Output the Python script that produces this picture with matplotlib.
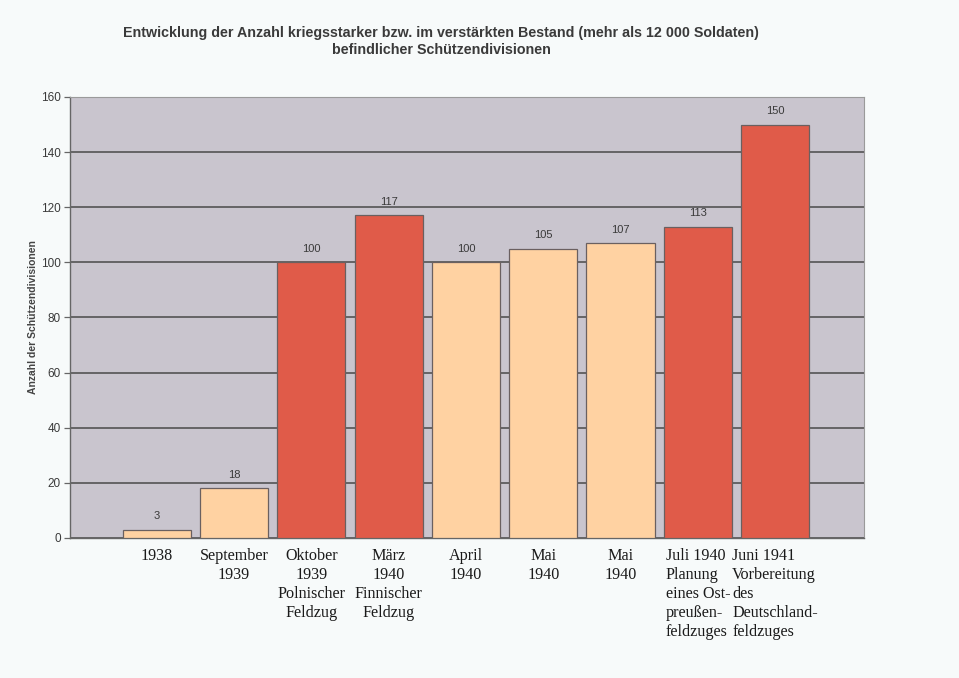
import matplotlib.pyplot as plt
import numpy as np

categories = ['1938', 'September\n1939', 'Oktober\n1939\nPolnischer\nFeldzug',
              'März\n1940\nFinnischer\nFeldzug', 'April\n1940', 'Mai\n1940', 'Mai\n1940',
              'Juli 1940\nPlanung\neines Ost-\npreußen-\nfeldzuges',
              'Juni 1941\nVorbereitung\ndes\nDeutschland-\nfeldzuges']
values = [3, 18, 100, 117, 100, 105, 107, 113, 150]
highlight = [False, False, True, True, False, False, False, True, True]
left_aligned = [False, False, False, False, False, False, False, True, True]

red = '#E05B49'
peach = '#FFD2A2'

fig = plt.figure(figsize=(9.59, 6.78), dpi=100, facecolor='#F7FAFA')
ax = fig.add_axes([0.073, 0.2065, 0.828, 0.6505])
ax.set_facecolor('#C9C5CE')

X = np.arange(len(values))
colors = [red if h else peach for h in highlight]
ax.bar(X, values, width=0.88, color=colors, edgecolor='#6a6060', linewidth=0.9, zorder=3)

for x, v in zip(X, values):
    ax.text(x, v + 3.0, str(v), ha='center', va='bottom', fontsize=8,
            family='Liberation Sans', color='#3a3a3a', zorder=4)

ax.set_ylim(0, 160)
ax.set_xlim(-1.12, len(values) - 1 + 1.15)
ax.set_yticks(np.arange(0, 161, 20))
ax.yaxis.grid(True, color='#4a4a4a', linewidth=1.1, zorder=1)
ax.set_axisbelow(True)
ax.tick_params(axis='y', direction='out', length=4, width=0.9, color='#666666',
               labelsize=8.5, labelcolor='#3a3a3a', pad=2.5)
for lbl in ax.get_yticklabels():
    lbl.set_family('Liberation Sans')

ax.set_xticks(X)
ax.set_xticklabels([])
ax.tick_params(axis='x', length=0)
for x, lab, la in zip(X, categories, left_aligned):
    ax.annotate(lab, xy=(x, 0), xycoords='data', xytext=(0, -7), textcoords='offset points',
                ha='center', va='top', multialignment='left' if la else 'center',
                fontsize=11.6, family='Liberation Serif', linespacing=1.25, color='#1a1a1a')

for side in ['top', 'right']:
    ax.spines[side].set_color('#9a9a9a')
    ax.spines[side].set_linewidth(0.8)
for side in ['left', 'bottom']:
    ax.spines[side].set_color('#666666')
    ax.spines[side].set_linewidth(1.0)

ax.set_ylabel('Anzahl der Schützendivisionen', fontsize=7.5, fontweight='bold',
              family='Liberation Sans', color='#444444', labelpad=2.5)

fig.text(0.46, 0.939, 'Entwicklung der Anzahl kriegsstarker bzw. im verstärkten Bestand (mehr als 12 000 Soldaten)\nbefindlicher Schützendivisionen',
         ha='center', va='center', fontsize=10.3, fontweight='bold', family='Liberation Sans',
         color='#3a3a3a', linespacing=1.3)

plt.savefig('out.png', facecolor=fig.get_facecolor())
plt.close()
